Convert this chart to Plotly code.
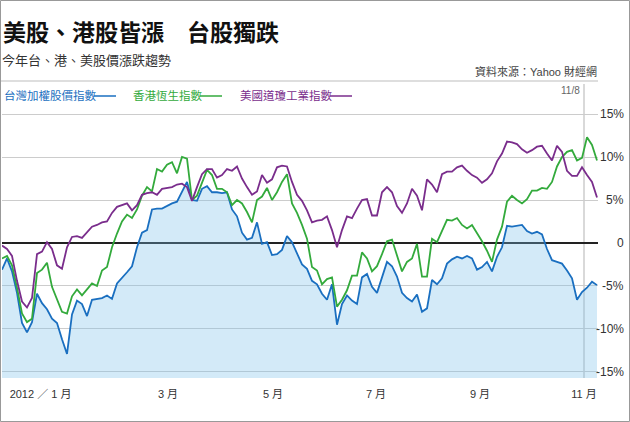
import plotly.graph_objects as go

# ---------------- data (percent change year-to-date) ----------------
series_names = ["台灣加權股價指數", "香港恆生指數", "美國道瓊工業指數"]

taiex = [-3.1, -1.8, -3.3, -5.8, -9.3, -10.4, -9.2, -5.9, -7.0, -7.7,
         -8.8, -9.3, -11.2, -12.9, -8.3, -6.7, -7.1, -8.5, -6.6, -6.5,
         -6.4, -6.1, -6.5, -4.7, -4.1, -3.4, -2.7, -0.5, 1.2, 1.5,
         3.9, 4.0, 4.0, 4.3, 4.6, 4.8, 5.9, 7.1, 5.0, 4.9,
         6.3, 6.6, 5.9, 5.9, 5.8, 5.9, 3.9, 3.1, 1.2, 0.4,
         0.6, 2.4, -0.1, 0.1, -1.4, -1.3, -0.8, 0.8, 0.1, -1.3,
         -2.5, -3.0, -4.4, -4.8, -5.9, -6.6, -4.8, -9.5, -7.1, -6.1,
         -6.7, -7.1, -4.0, -3.6, -5.1, -5.8, -4.1, -2.2, -2.7, -3.9,
         -5.8, -6.4, -6.8, -6.0, -8.0, -7.6, -4.3, -4.8, -4.1, -2.4,
         -1.9, -1.6, -1.8, -1.5, -1.8, -3.1, -2.8, -2.2, -3.3, -1.6,
         -0.5, 2.0, 1.9, 2.0, 2.1, 1.4, 1.1, 1.3, 1.0, -0.7,
         -2.0, -2.2, -2.4, -3.2, -4.1, -6.6, -5.7, -5.2, -4.5, -4.9]

hsi = [-1.8, -1.5, -2.6, -5.2, -8.2, -9.2, -8.8, -3.5, -3.1, -2.3,
       -5.1, -6.6, -8.0, -8.2, -6.2, -5.4, -6.1, -5.4, -4.7, -5.0,
       -3.2, -2.8, -0.5, 1.1, 2.5, 3.3, 2.9, 3.9, 5.5, 6.5,
       6.0, 8.6, 8.3, 9.1, 9.4, 8.1, 10.0, 9.8, 5.0, 5.5,
       6.9, 8.5, 7.9, 6.3, 6.3, 5.9, 4.4, 5.0, 4.6, 3.6,
       2.4, 5.0, 5.4, 6.4, 5.0, 5.9, 7.1, 8.0, 4.6, 3.5,
       2.1, 0.5, -2.8, -3.2, -4.8, -4.2, -4.0, -7.4, -6.6, -5.5,
       -3.8, -3.8, -1.1, -1.8, -3.3, -2.7, -1.3, 0.2, 0.4, -1.4,
       -3.3, -2.2, -1.8, -0.1, -3.9, -3.9, 0.5, 0.1, 1.4, 2.7,
       2.6, 2.9, 2.1, 1.7, 2.1, 1.2, 0.2, -0.9, -2.2, 0.4,
       1.9, 4.8, 5.5, 5.0, 4.6, 5.1, 6.1, 6.1, 6.4, 6.3,
       7.1, 8.9, 10.0, 10.6, 10.8, 9.6, 9.9, 12.3, 11.4, 9.6]

dow = [-0.3, -0.7, -1.5, -4.4, -6.8, -7.5, -6.4, -1.3, -1.0, 0.1,
       -0.7, -2.6, -3.0, -0.5, 0.7, 0.8, 0.6, 1.3, 1.9, 2.1,
       2.4, 2.5, 3.5, 4.2, 4.4, 4.6, 3.8, 4.4, 5.6, 5.8,
       5.9, 5.6, 6.3, 6.4, 6.5, 6.8, 6.9, 6.5, 4.9, 6.5,
       8.0, 8.6, 8.6, 7.6, 7.9, 8.6, 8.4, 8.9, 7.5, 6.5,
       5.6, 6.0, 7.9, 7.0, 7.4, 8.8, 9.0, 8.9, 7.1, 5.6,
       4.9, 3.8, 2.4, 2.6, 2.7, 3.1, 1.5, -0.5, 1.5, 3.1,
       2.9, 4.0, 5.0, 5.1, 3.2, 3.2, 5.9, 6.5, 5.9, 4.3,
       3.5, 4.6, 6.3, 5.5, 3.8, 7.4, 6.8, 5.9, 8.0, 8.3,
       8.3, 8.8, 9.0, 8.4, 7.9, 7.6, 7.0, 7.4, 8.1, 9.5,
       10.4, 11.8, 11.7, 11.5, 10.9, 10.5, 10.8, 11.2, 11.3, 10.4,
       9.6, 11.3, 10.6, 8.4, 7.8, 7.8, 8.8, 7.9, 7.1, 5.3]

month_labels = ["2012 ／ 1 月", "3 月", "5 月", "7 月", "9 月", "11 月"]
y_ticks = [15, 10, 5, 0, -5, -10, -15]
y_tick_labels = ["15%", "10%", "5%", "0", "-5%", "-10%", "-15%"]

# ---------------- layout constants ----------------
W, H = 630, 422
L, R, T, B = 2, 32, 84, 44
PW, PH = W - L - R, H - T - B
Y_RANGE = [-15.7, 18.49]
X_RANGE = [0, 119.2]
month_pos = [7.7, 33.2, 54.2, 74.8, 95.6, 116.4]
marker_pos = 116.4

BLUE = "#1a6fc0"
GREEN = "#33aa3c"
PURPLE = "#7a2d8c"
FILL = "rgba(120,190,235,0.33)"
CJK = "Noto Sans CJK TC"
NUM = "Liberation Sans, Noto Sans CJK TC"


def fx(px):
    return (px - L) / PW


def fy(py):
    return (H - B - py) / PH


idx = list(range(len(taiex)))

fig = go.Figure()
fig.add_trace(go.Scatter(x=idx, y=[Y_RANGE[0]] * len(idx), mode="lines",
                         line=dict(width=0, color="rgba(0,0,0,0)"),
                         hoverinfo="skip", showlegend=False))
fig.add_trace(go.Scatter(x=idx, y=taiex, mode="lines", name=series_names[0],
                         line=dict(color=BLUE, width=1.8),
                         fill="tonexty", fillcolor=FILL, showlegend=False))
fig.add_trace(go.Scatter(x=idx, y=hsi, mode="lines", name=series_names[1],
                         line=dict(color=GREEN, width=1.8), showlegend=False))
fig.add_trace(go.Scatter(x=idx, y=dow, mode="lines", name=series_names[2],
                         line=dict(color=PURPLE, width=1.8), showlegend=False))

annotations = []
shapes = []

# Title and subtitle
annotations.append(dict(text="<b>美股、港股皆漲　台股獨跌</b>", xref="paper", yref="paper",
                        x=fx(2), y=fy(31), xanchor="left", yanchor="middle", showarrow=False,
                        borderpad=0, font=dict(family=CJK, size=23, color="#111")))
annotations.append(dict(text="今年台、港、美股價漲跌趨勢", xref="paper", yref="paper",
                        x=fx(1), y=fy(59), xanchor="left", yanchor="middle", showarrow=False,
                        borderpad=0, font=dict(family=CJK, size=13, color="#333")))
annotations.append(dict(text="資料來源：Yahoo 財經網", xref="paper", yref="paper",
                        x=fx(598), y=fy(71), xanchor="right", yanchor="middle", showarrow=False,
                        borderpad=0, font=dict(family=NUM, size=11, color="#444")))
# separator line under header
shapes.append(dict(type="line", xref="paper", yref="paper", x0=fx(0), x1=fx(598),
                   y0=fy(81), y1=fy(81), line=dict(color="#dedede", width=2)))

# Legend (text followed by a line swatch)
legend_items = [(series_names[0], BLUE, 2, 94), (series_names[1], GREEN, 131, 200),
                (series_names[2], PURPLE, 238, 330)]
for name, col, tx, lx in legend_items:
    annotations.append(dict(text=name, xref="paper", yref="paper", x=fx(tx), y=fy(95),
                            xanchor="left", yanchor="middle", showarrow=False,
                            font=dict(family=CJK, size=11.5, color=col)))
    shapes.append(dict(type="line", xref="paper", yref="paper", x0=fx(lx), x1=fx(lx + 22),
                       y0=fy(96), y1=fy(96), line=dict(color=col, width=1.5)))

# right side tick labels (right-aligned)
for v, lab in zip(y_ticks, y_tick_labels):
    annotations.append(dict(text=lab, xref="paper", yref="y", x=fx(626), y=v,
                            xanchor="right", yanchor="middle", showarrow=False,
                            font=dict(family=NUM, size=12, color="#333")))

# 11/8 marker line and label
shapes.append(dict(type="line", xref="x", yref="paper", x0=marker_pos, x1=marker_pos,
                   y0=0, y1=1, layer="below", line=dict(color="#cccccc", width=1.5)))
annotations.append(dict(text="11/8", xref="paper", yref="paper", x=fx(570), y=fy(90),
                        xanchor="center", yanchor="middle", showarrow=False,
                        font=dict(family=NUM, size=10, color="#666")))

# outer border
shapes.append(dict(type="rect", xref="paper", yref="paper", x0=fx(0.5), x1=fx(629.5),
                   y0=fy(0.5), y1=fy(421.5), line=dict(color="#999", width=1)))

fig.update_layout(
    width=W, height=H,
    margin=dict(l=L, r=R, t=T, b=B, pad=0),
    paper_bgcolor="white", plot_bgcolor="white",
    showlegend=False,
    annotations=annotations, shapes=shapes,
    xaxis=dict(range=X_RANGE, tickmode="array", tickvals=month_pos, ticktext=month_labels,
               showgrid=False, zeroline=False, showline=False, ticks="",
               tickfont=dict(family=NUM, size=11, color="#333"), ticklabelstandoff=8,
               fixedrange=True),
    yaxis=dict(range=Y_RANGE, tickmode="array", tickvals=y_ticks, showticklabels=False,
               showgrid=True, gridcolor="#cccccc", gridwidth=1,
               zeroline=True, zerolinecolor="#222222", zerolinewidth=1.5,
               showline=False, ticks="", fixedrange=True),
)

fig.write_html("out.html", config={"displayModeBar": False})
